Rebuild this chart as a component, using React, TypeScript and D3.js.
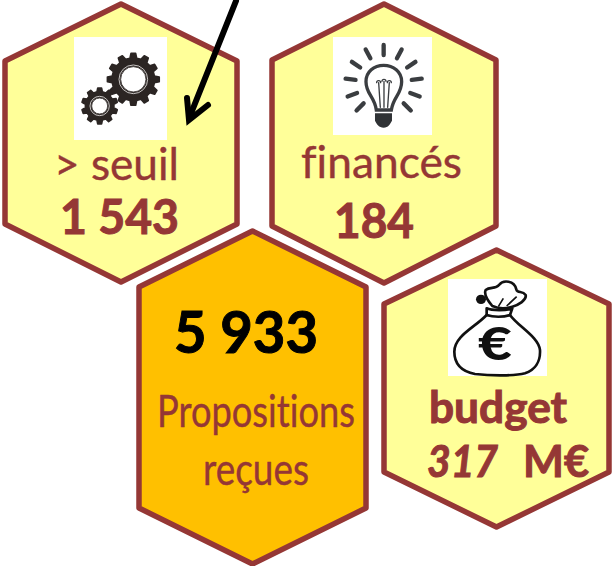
import React from "react";
import * as d3 from "d3";

// values
const cellNames = ["seuil", "finances", "recues", "budget"];
const cellValues = [1543, 184, 5933, 317];
const seuilLabel = "> seuil";
const financesLabel = "financés";
const recuesLabels = ["Propositions", "reçues"];
const budgetLabel = "budget";
const budgetUnit = "M€";

const W = 615;
const H = 566;
const BROWN = "#953735";
const YELLOW = "#ffff99";
const ORANGE = "#ffc000";

const fr = d3.formatLocale({ decimal: ",", thousands: " ", grouping: [3], currency: ["", "€"] });
const fmt = fr.format(",d");

// hexagon frames: left, right, top, shoulder top, shoulder bottom, bottom
const frames = [
  { x0: 5, x1: 237, y0: 4, y1: 61, y2: 224, y3: 282, fill: YELLOW },
  { x0: 272, x1: 496, y0: 4, y1: 60, y2: 226, y3: 283, fill: YELLOW },
  { x0: 139, x1: 366, y0: 231, y1: 287, y2: 508, y3: 564, fill: ORANGE },
  { x0: 384, x1: 609, y0: 250, y1: 304, y2: 472, y3: 527, fill: YELLOW },
];

const hexPath = d3.line<{ x: number; y: number }>().x((d) => d.x).y((d) => d.y);

function hex(f: (typeof frames)[number]) {
  const mid = (f.x0 + f.x1) / 2;
  return (
    hexPath([
      { x: mid, y: f.y0 },
      { x: f.x1, y: f.y1 },
      { x: f.x1, y: f.y2 },
      { x: mid, y: f.y3 },
      { x: f.x0, y: f.y2 },
      { x: f.x0, y: f.y1 },
    ]) + "Z"
  );
}

// gear outline with square-ish teeth
function gearPath(teeth: number, outer: number, root: number) {
  const pts: [number, number][] = [];
  const step = (Math.PI * 2) / teeth;
  d3.range(teeth).forEach((i) => {
    const a = i * step;
    pts.push([a - step * 0.3, root]);
    pts.push([a - step * 0.17, outer]);
    pts.push([a + step * 0.17, outer]);
    pts.push([a + step * 0.3, root]);
  });
  return d3.lineRadial().curve(d3.curveLinearClosed)(pts) as string;
}

function Gear(props: { cx: number; cy: number; teeth: number; outer: number; root: number; hole: number }) {
  const { cx, cy, teeth, outer, root, hole } = props;
  return (
    <g transform={`translate(${cx},${cy})`}>
      <path d={gearPath(teeth, outer, root)} fill="#2b2523" stroke="#2b2523" strokeWidth={5} strokeLinejoin="round" />
      <circle r={hole + 5} fill="none" stroke="#c9c6c4" strokeWidth={3} />
      <circle r={hole} fill="#ffffff" stroke="#4a4543" strokeWidth={3} />
    </g>
  );
}

// bulb rays: angle from the vertical in degrees
const rayAngles = [0, 28, 56, 83, 110, 135, -28, -56, -83, -110, -135];

function Bulb() {
  return (
    <g transform="translate(260,0) scale(0.3333)" fill="none" stroke="#3a3d40" strokeLinecap="round">
      {rayAngles.map((a) => {
        const r = (a * Math.PI) / 180;
        const p = d3.pointRadial(r, 85);
        const q = d3.pointRadial(r, 115);
        return <line key={a} x1={371 + p[0]} y1={250 + p[1]} x2={371 + q[0]} y2={250 + q[1]} strokeWidth={13} />;
      })}
      <path
        d="M349 330 C344 290 318 282 318 245 C318 215 342 196 371 196 C400 196 425 215 425 245 C425 282 400 290 394 330 Z"
        strokeWidth={10}
      />
      <path d="M361 322 L356 248 M372 322 L372 244 M383 322 L388 248" strokeWidth={4} />
      <path d="M350 248 A6 6 0 0 1 362 248 M366 244 A6 6 0 0 1 378 244 M382 248 A6 6 0 0 1 394 248" strokeWidth={4} />
      <path
        d="M345 340 L396 340 L396 362 C390 372 385 383 371 383 C357 383 350 372 345 362 Z"
        fill="#2f3235"
        stroke="none"
      />
    </g>
  );
}

function Bag() {
  return (
    <g transform="translate(375,240) scale(0.3333)" fill="#ffffff" stroke="#111111" strokeLinejoin="round" strokeWidth={8}>
      <path d="M335 225 C300 262 238 288 238 335 C238 375 265 395 300 402 C350 408 420 408 450 400 C480 390 497 365 495 330 C490 290 430 260 405 225 Z" />
      <path d="M352 198 C340 184 325 165 332 150 C345 140 362 148 372 135 C385 118 418 122 424 148 C428 162 442 150 452 165 C456 180 430 195 412 200 C395 206 370 206 352 198 Z" />
      <path d="M370 200 L385 175 M395 198 L425 170" fill="none" strokeWidth={5} />
      <path d="M335 205 C350 212 395 212 412 205 L405 225 C385 232 355 232 335 225 Z" />
      <ellipse cx={318} cy={178} rx={15} ry={14} fill="#111111" stroke="none" />
    </g>
  );
}

export default function App() {
  const [seuil, finances, recues, budget] = cellValues;
  const label = {
    fontFamily: "Lato, 'Open Sans', sans-serif",
    fill: BROWN,
    stroke: BROWN,
    strokeWidth: 0.4,
    lengthAdjust: "spacingAndGlyphs",
    style: { fontVariantLigatures: "none" },
  };
  const bold = { ...label, fontWeight: 700, strokeWidth: 1 };
  return (
    <svg
      width={W}
      height={H}
      viewBox={`0 0 ${W} ${H}`}
      style={{ position: "absolute", left: 0, top: 0, background: "#ffffff" }}
    >
      <g stroke={BROWN} strokeWidth={5.5} strokeLinejoin="round">
        {frames.map((f, i) => (
          <path key={cellNames[i]} d={hex(f)} fill={f.fill} />
        ))}
      </g>

      <rect x={74} y={37} width={93} height={103} fill="#ffffff" />
      <rect x={333} y={37} width={99} height={98} fill="#ffffff" />
      <rect x={448} y={279} width={99} height={97} fill="#ffffff" />

      <g transform="scale(0.3333)">
        <Gear cx={400} cy={238} teeth={12} outer={78} root={64} hole={38} />
        <Gear cx={299} cy={318} teeth={10} outer={54} root={43} hole={24} />
      </g>
      <Bulb />
      <Bag />
      <text x={478} y={360} fontFamily="Lato, sans-serif" fontWeight={900} fontSize={46} fill="#111111" textLength={34} lengthAdjust="spacingAndGlyphs">€</text>

      <text {...label} x={54} y={180} fontSize={45} textLength={125}>{seuilLabel}</text>
      <text {...bold} x={60} y={234} fontSize={48} textLength={119}>{fmt(seuil)}</text>

      <text {...label} x={301} y={178} fontSize={45} textLength={161}>{financesLabel}</text>
      <text {...bold} x={334} y={238} fontSize={48} textLength={80}>{fmt(finances)}</text>

      <text x={174} y={353} fontFamily="Lato, sans-serif" fontSize={58} fontWeight={700} fill="#000000" stroke="#000000" strokeWidth={1} textLength={144} lengthAdjust="spacingAndGlyphs">{fmt(recues)}</text>
      <text {...label} x={157} y={427} fontSize={44} textLength={198}>{recuesLabels[0]}</text>
      <text {...label} x={203} y={485} fontSize={44} textLength={106}>{recuesLabels[1]}</text>

      <text {...bold} x={429} y={423} fontSize={44} textLength={138}>{budgetLabel}</text>
      <text {...bold} x={427} y={477} fontSize={44} fontStyle="italic" textLength={71}>{fmt(budget)}</text>
      <text {...bold} x={523} y={477} fontSize={44} textLength={66}>{budgetUnit}</text>

      <g fill="none" stroke="#000000" strokeWidth={6} strokeLinecap="round" strokeLinejoin="miter">
        <path d="M236 1 L190 116" />
        <path d="M187 98 L189 120 L208 105" />
      </g>
    </svg>
  );
}
